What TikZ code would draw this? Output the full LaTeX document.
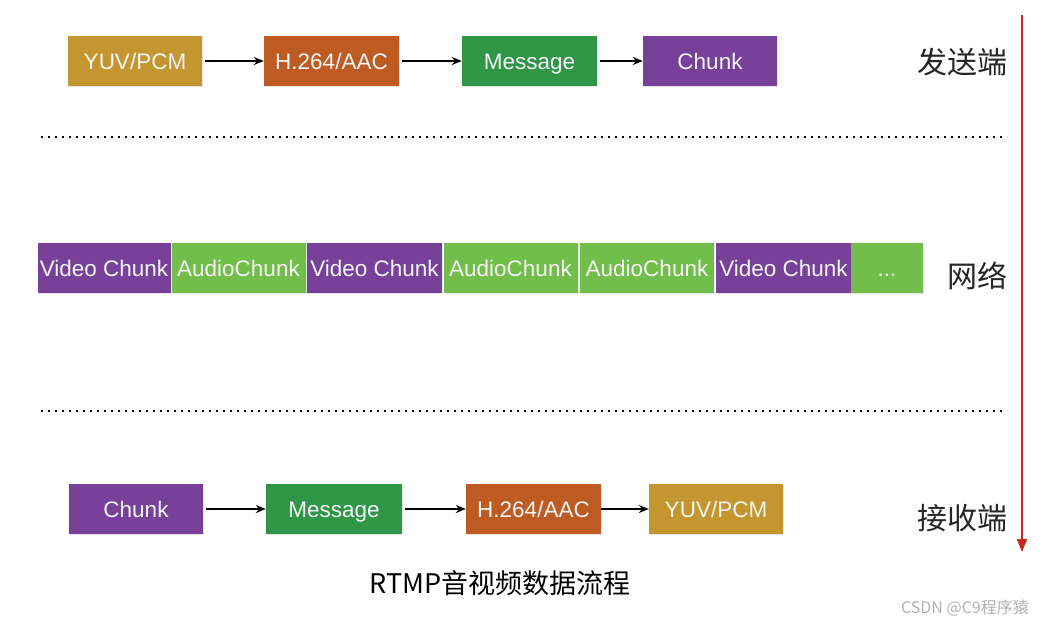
\documentclass[tikz,border=0pt]{standalone}
\usepackage{fontspec}
\setmainfont{Liberation Sans}
\newfontfamily\cjk{Noto Sans CJK SC}
\usetikzlibrary{arrows.meta,shadows}
\definecolor{cyuv}{HTML}{C4962F}
\definecolor{chtf}{HTML}{BE5B22}
\definecolor{cmsg}{HTML}{2F9647}
\definecolor{cchk}{HTML}{77419A}
\definecolor{caud}{HTML}{72BE4A}
\definecolor{cred}{HTML}{C8281E}
\begin{document}
\begin{tikzpicture}[x=1pt,y=-1pt,
  box/.style={rectangle, inner sep=0pt, minimum height=50pt, text=white!96!black,
    font=\fontsize{22.5}{22.5}\selectfont, text height=16pt, text depth=0pt,
    drop shadow={shadow xshift=1pt, shadow yshift=-1pt, opacity=0.2}},
  flow/.style={line width=1.5pt, -{Stealth[length=10pt,width=8pt]}},
  dotline/.style={line width=2pt, dash pattern=on 2pt off 5pt},
  side/.style={font=\cjk\fontsize{30}{30}\selectfont, text=black!85},
]
\useasboundingbox (0,0) rectangle (1050,627);
\fill[white] (0,0) rectangle (1050,627);

% sender row
\node[box, fill=cyuv, minimum width=134pt] (s1) at (135,61) {YUV/PCM};
\node[box, fill=chtf, minimum width=135pt] (s2) at (331.5,61) {H.264/AAC};
\node[box, fill=cmsg, minimum width=135pt] (s3) at (529.5,61) {Message};
\node[box, fill=cchk, minimum width=134pt] (s4) at (710,61) {Chunk};
\draw[flow] ([xshift=3pt]s1.east) -- (s2.west);
\draw[flow] ([xshift=3pt]s2.east) -- (s3.west);
\draw[flow] ([xshift=3pt]s3.east) -- (s4.west);
\node[side] (lsend) at (962,62) {发送端};

% separators
\coordinate (d1a) at (41,137);
\coordinate (d1b) at (1007,137);
\coordinate (d2a) at (41,411);
\coordinate (d2b) at (1007,411);
\draw[dotline] (d1a) -- (d1b);
\draw[dotline] (d2a) -- (d2b);

% network row
\node[box, fill=cchk, minimum width=133pt] (n1) at (104,268) {Video Chunk};
\node[box, fill=caud, minimum width=134pt] (n2) at (238.5,268) {AudioChunk};
\node[box, fill=cchk, minimum width=135pt] (n3) at (374.5,268) {Video Chunk};
\node[box, fill=caud, minimum width=134pt] (n4) at (510.5,268) {AudioChunk};
\node[box, fill=caud, minimum width=134pt] (n5) at (647,268) {AudioChunk};
\node[box, fill=cchk, minimum width=135pt] (n6) at (783.5,268) {Video Chunk};
\node[box, fill=caud, minimum width=72pt, text=white!80!caud] (n7) at (887,268) {...};
\node[side] (lnet) at (977,276) {网络};

% receiver row
\node[box, fill=cchk, minimum width=134pt] (r1) at (136,509) {Chunk};
\node[box, fill=cmsg, minimum width=136pt] (r2) at (334,509) {Message};
\node[box, fill=chtf, minimum width=135pt] (r3) at (533.5,509) {H.264/AAC};
\node[box, fill=cyuv, minimum width=134pt] (r4) at (716,509) {YUV/PCM};
\draw[flow] ([xshift=3pt]r1.east) -- (r2.west);
\draw[flow] ([xshift=3pt]r2.east) -- (r3.west);
\draw[flow] (r3.east) -- (r4.west);
\node[side] (lrecv) at (962,518) {接收端};

% time arrow
\coordinate (ta) at (1022,15);
\coordinate (tb) at (1022,552);
\draw[cred, line width=2pt, -{Triangle[length=13pt,width=10pt]}] (ta) -- (tb);

% caption and watermark
\node[font=\cjk\fontsize{27}{27}\selectfont, text=black] (cap) at (500,583) {RTMP音视频数据流程};
\node[font=\cjk\fontsize{16}{16}\selectfont, text=black!30] (wm) at (965,608) {CSDN @C9程序猿};
\end{tikzpicture}
\end{document}
